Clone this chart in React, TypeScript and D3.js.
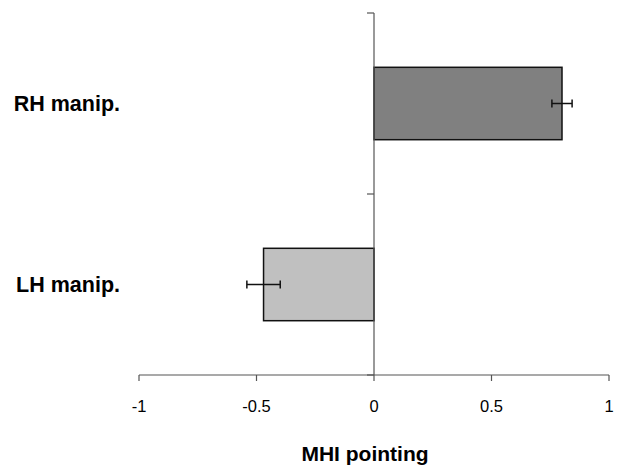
import React from "react";
import * as d3 from "d3";

const categories = ["RH manip.", "LH manip."];
const values = [0.8, -0.47];
const errors = [0.043, 0.071];
const fills = ["#808080", "#c0c0c0"];
const xTicks = [-1, -0.5, 0, 0.5, 1];

export default function App() {
  const W = 622;
  const H = 468;
  const x = d3.scaleLinear().domain([-1, 1]).range([139, 609]);
  const y = d3.scaleBand<string>().domain(categories).range([13, 375]).padding(0);
  const bw = y.bandwidth();
  const barH = bw * 0.4;
  const axisY = 375;
  const axisColor = "#555";
  const boundaries = [13, ...categories.map((c) => (y(c) as number) + bw)];

  return (
    <svg
      width={W}
      height={H}
      style={{ position: "absolute", left: 0, top: 0, background: "#fff" }}
      fontFamily="Arial, 'Liberation Sans', sans-serif"
    >
      {/* bars */}
      {categories.map((c, i) => {
        const cy = (y(c) as number) + bw / 2;
        const x0 = x(Math.min(0, values[i]));
        const x1 = x(Math.max(0, values[i]));
        const e0 = x(values[i] - errors[i]);
        const e1 = x(values[i] + errors[i]);
        return (
          <g key={c}>
            <rect
              x={x0}
              y={cy - barH / 2}
              width={x1 - x0}
              height={barH}
              fill={fills[i]}
              stroke="#111"
              strokeWidth={1.5}
            />
            <line x1={e0} x2={e1} y1={cy} y2={cy} stroke="#111" strokeWidth={1.5} />
            <line x1={e0} x2={e0} y1={cy - 4} y2={cy + 4} stroke="#111" strokeWidth={1.5} />
            <line x1={e1} x2={e1} y1={cy - 4} y2={cy + 4} stroke="#111" strokeWidth={1.5} />
            <text
              x={120}
              y={cy + 7.5}
              textAnchor="end"
              fontSize={21.5}
              fontWeight="bold"
              fill="#000"
            >
              {c}
            </text>
          </g>
        );
      })}
      {/* vertical axis at 0 */}
      <line x1={x(0)} x2={x(0)} y1={13} y2={axisY} stroke={axisColor} strokeWidth={1.2} />
      {boundaries.map((b, i) => (
        <line key={i} x1={x(0) - 7} x2={x(0)} y1={b} y2={b} stroke={axisColor} strokeWidth={1.2} />
      ))}
      {/* x axis */}
      <line x1={x(-1)} x2={x(1)} y1={axisY} y2={axisY} stroke={axisColor} strokeWidth={1.2} />
      {xTicks.map((t) => (
        <g key={t}>
          <line x1={x(t)} x2={x(t)} y1={axisY} y2={axisY + 6} stroke={axisColor} strokeWidth={1.2} />
          <text x={x(t)} y={412} textAnchor="middle" fontSize={16.5} fill="#000">
            {String(t)}
          </text>
        </g>
      ))}
      <text x={365} y={461} textAnchor="middle" fontSize={21} fontWeight="bold" fill="#000">
        MHI pointing
      </text>
    </svg>
  );
}
